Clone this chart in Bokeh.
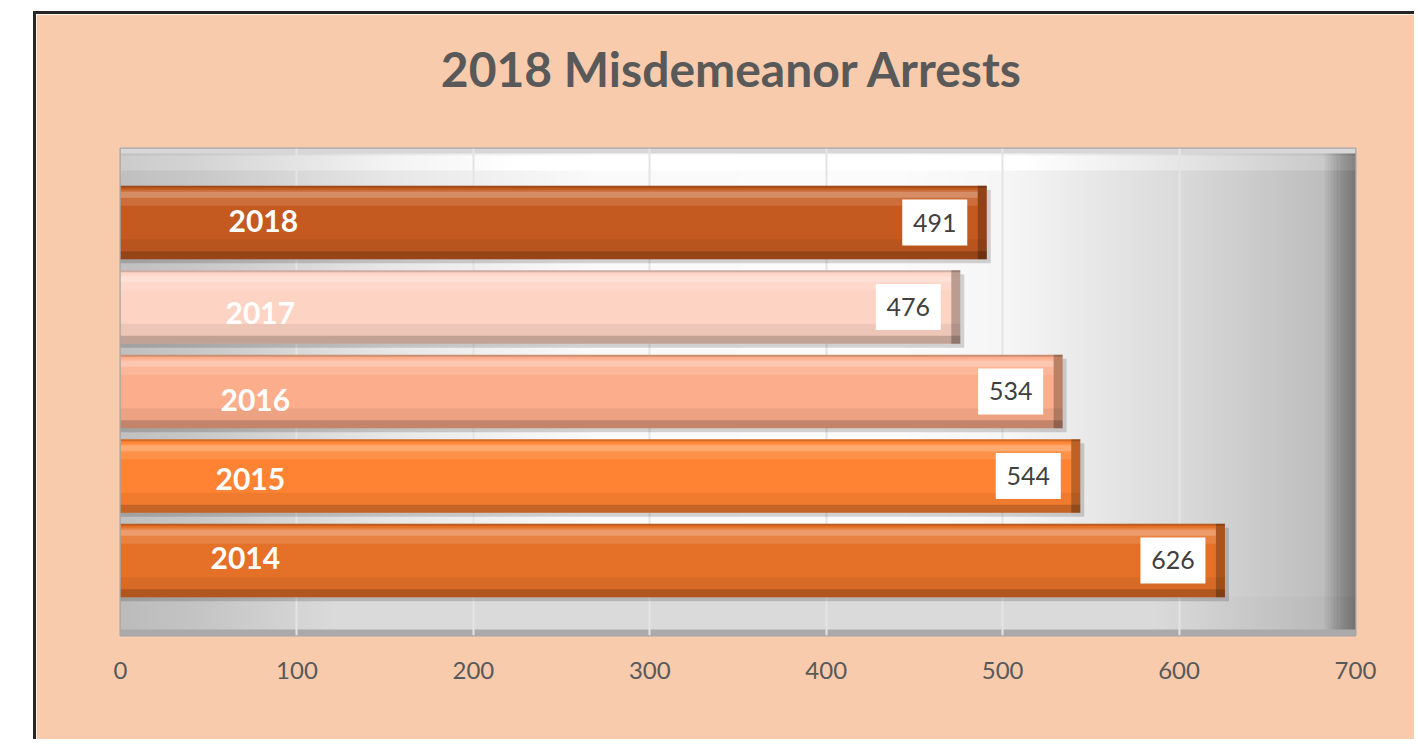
import numpy as np
from bokeh.plotting import figure
from bokeh.models import Range1d, ColumnDataSource, Spacer, FixedTicker, LinearAxis
from bokeh.layouts import row, column
from bokeh.embed import file_html
from bokeh.resources import INLINE
from bokeh.core.properties import value

# ---- data ----
years = ["2014", "2015", "2016", "2017", "2018"]
arrests = [626, 544, 534, 476, 491]
bar_colors = ["#E57128", "#FF8332", "#FCAE8C", "#FDD3C4", "#C45A20"]
x_ticks = [0, 100, 200, 300, 400, 500, 600, 700]
title_text = "2018 Misdemeanor  Arrests"

# ---- styling / geometry ----
W, H = 1381, 728
X0, X1 = 0, 700
Y0, Y1 = -0.888, 4.876
frame_w, frame_h = 1235, 487
px_x = (X1 - X0) / frame_w
px_y = (Y1 - Y0) / frame_h
bh = 0.87

p = figure(width=W, height=H, output_backend="svg", toolbar_location=None,
           x_range=Range1d(X0, X1), y_range=Range1d(Y0, Y1),
           min_border_left=84, min_border_right=W - 1319, min_border_top=134,
           min_border_bottom=H - 621)
p.border_fill_color = "#F8CBAD"
p.background_fill_color = "#EEEEEE"
p.outline_line_color = "#A6A6A6"
p.outline_line_width = 2
p.styles = {"border-left": "3px solid #262626", "border-top": "3px solid #262626"}

# chart title: label of a bare axis above the frame
title_axis = LinearAxis(ticker=FixedTicker(ticks=[]), axis_label=title_text,
                        axis_line_color=None, major_tick_line_color=None,
                        minor_tick_line_color=None, major_tick_out=0,
                        major_tick_in=0, major_label_standoff=0,
                        axis_label_standoff=52,
                        axis_label_text_font="Lato",
                        axis_label_text_font_style="bold",
                        axis_label_text_font_size="48px",
                        axis_label_text_color="#595959")
p.add_layout(title_axis, "above")

# background gradient (style only)
Hn, Wn = 400, 400
u = np.linspace(0, 1, Wn)
vv = np.linspace(0, 1, Hn)
Lx = np.interp(u, [0, 0.06, 0.22, 0.38, 0.62, 0.72, 0.86, 0.975, 0.99, 1.0],
               [192, 200, 232, 250, 252, 246, 218, 190, 140, 120])
img = np.tile(Lx, (Hn, 1))
floor = vv < 0.078
img[floor, :] = np.minimum(img[floor, :] - 4, 218)
img[vv < 0.012, :] = 170
top = (vv > 0.955) & (vv < 0.985)
img[top, :] = np.minimum(img[top, :] + 12, 255)
img[vv > 0.99, :] = 215
img = np.clip(img, 0, 255)
rgba = np.zeros((Hn, Wn), dtype=np.uint32)
view = rgba.view(dtype=np.uint8).reshape((Hn, Wn, 4))
view[..., 0] = img.astype(np.uint8)
view[..., 1] = img.astype(np.uint8)
view[..., 2] = img.astype(np.uint8)
view[..., 3] = 255
bg = p.image_rgba(image=[rgba], x=X0, y=Y0, dw=X1 - X0, dh=Y1 - Y0)
bg.level = "image"

# grid / axes
p.ygrid.visible = False
p.xgrid.ticker = FixedTicker(ticks=x_ticks)
p.xgrid.grid_line_color = "#E4E4E4"
p.xgrid.grid_line_width = 2
p.yaxis.visible = False
p.below[0].ticker = FixedTicker(ticks=x_ticks)
xa = p.below[0]
xa.axis_line_color = None
xa.major_tick_line_color = None
xa.minor_tick_line_color = None
xa.major_label_text_font = "Lato"
xa.major_label_text_font_size = "24px"
xa.major_label_text_color = "#595959"
xa.major_label_standoff = 20

idx = list(range(len(years)))
src = ColumnDataSource(dict(
    y=idx, v=arrests, c=bar_colors, year=years, label=[str(a) for a in arrests],
    ysh=[i - 4 * px_y for i in idx],
    vsh=[a + 4 * px_x for a in arrests],
    ytop=[i + bh / 2 - 9 * px_y for i in idx],
    ytop2=[i + bh / 2 - 12 * px_y for i in idx],
    yedge=[i + bh / 2 - 1 * px_y for i in idx],
    ybot=[i - bh / 2 + 4 * px_y for i in idx],
    ybot2=[i - bh / 2 + 10 * px_y for i in idx],
    vbev=[a - 9 * px_x for a in arrests],
    vlab=[a - 52 * px_x for a in arrests],
    ydx=[90, 95, 100, 105, 108],
    ydy=[-2, 3, 9, 6, -2],
))

# drop shadow
p.hbar(y="ysh", left=0, right="vsh", height=bh, source=src,
       fill_color="black", fill_alpha=0.16, line_color=None)
# main bars
p.hbar(y="y", left=0, right="v", height=bh, source=src,
       fill_color="c", line_color=None)
# top highlight bands
p.hbar(y="ytop2", left=0, right="vbev", height=16 * px_y, source=src,
       fill_color="white", fill_alpha=0.12, line_color=None)
p.hbar(y="ytop", left=0, right="vbev", height=6 * px_y, source=src,
       fill_color="white", fill_alpha=0.22, line_color=None)
p.hbar(y="yedge", left=0, right="v", height=2 * px_y, source=src,
       fill_color="black", fill_alpha=0.18, line_color=None)
# bottom dark bands
p.hbar(y="ybot2", left=0, right="v", height=20 * px_y, source=src,
       fill_color="black", fill_alpha=0.06, line_color=None)
p.hbar(y="ybot", left=0, right="v", height=8 * px_y, source=src,
       fill_color="black", fill_alpha=0.18, line_color=None)
# right bevel
p.hbar(y="y", left="vbev", right="v", height=bh, source=src,
       fill_color="black", fill_alpha=0.26, line_color=None)

# category labels inside bars
p.text(x=0, y="y", text="year", source=src, x_offset="ydx", y_offset="ydy",
       text_color="white", text_font=value("Lato"), text_font_style="bold",
       text_font_size="30px", text_align="left", text_baseline="middle")

# value labels with white boxes
p.rect(x="vlab", y="y", width=65, height=46, width_units="screen",
       height_units="screen", source=src, fill_color="white", line_color=None)
p.text(x="vlab", y="y", text="label", source=src,
       text_color="#404040", text_font=value("Lato"), text_font_size="25px",
       text_align="center", text_baseline="middle")

layout = row(Spacer(width=33), column(Spacer(height=11), p))
open("out.html", "w").write(file_html(layout, INLINE))
